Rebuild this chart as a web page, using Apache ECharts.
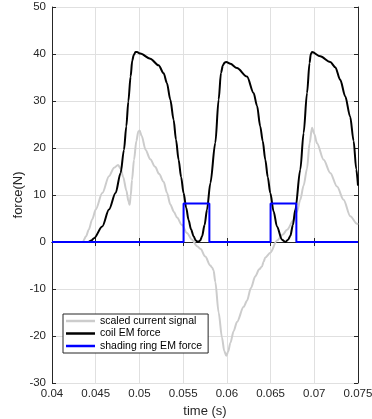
<!DOCTYPE html>
<html>
<head>
<meta charset="utf-8">
<script src="https://cdn.jsdelivr.net/npm/echarts@6/dist/echarts.min.js"></script>
<style>
  html, body { margin: 0; padding: 0; background: #fff; }
  #chart { width: 372px; height: 419px; }
</style>
</head>
<body>
<div id="chart"></div>
<script>
// [time (s), value] pairs
const currentSignal = [
  [0.04, 0], [0.0435, 0], [0.0439, 1.2], [0.0442, 2.6], [0.0446, 4.8], [0.045, 6.9],
  [0.04575, 10.4], [0.04652, 14], [0.0471, 15.8], [0.04755, 16.4], [0.04785, 15.6],
  [0.04815, 13.8], [0.0485, 11], [0.04875, 8.6], [0.04888, 7.9], [0.049, 9.8],
  [0.04915, 13.2], [0.04938, 17.5], [0.04965, 21.5], [0.04987, 23.5], [0.05002, 23.7],
  [0.05025, 22.6], [0.05071, 19.6], [0.05124, 17.6], [0.0518, 16], [0.05224, 14.5],
  [0.05277, 12.8], [0.05315, 10.5], [0.05353, 8], [0.05395, 6.4], [0.0543, 5.2],
  [0.05487, 3.6], [0.05544, 1.9], [0.05601, 0.5], [0.0566, -0.9], [0.057, -1.5],
  [0.05753, -3.1], [0.05811, -5.0], [0.0583, -5.4], [0.05848, -6.0], [0.05868, -8.5],
  [0.05906, -15], [0.05944, -20.3], [0.0597, -23.2], [0.05994, -24.2], [0.06015, -23.3],
  [0.0604, -21.5], [0.06077, -19.0], [0.06116, -17.0], [0.06192, -13.8], [0.0623, -12.5],
  [0.06275, -9.8], [0.06325, -7.3], [0.0637, -5.8], [0.06402, -5.2], [0.0642, -4.2],
  [0.0644, -3.3], [0.06497, -2.3], [0.06573, 0.3], [0.0664, 1.6], [0.06688, 2.6],
  [0.06764, 4.7], [0.06802, 6.4], [0.0684, 9], [0.06878, 12], [0.06917, 15.6],
  [0.06946, 21], [0.06974, 24.3], [0.07, 23], [0.07031, 21], [0.07107, 17.5],
  [0.07183, 14.7], [0.0726, 11.8], [0.07335, 9], [0.07412, 5.5], [0.07488, 3.9],
  [0.075, 3.7]
];

const coilForce = [
  [0.04, 0], [0.0441, 0], [0.0445, 0.3], [0.0448, 0.8], [0.04575, 3.3], [0.04652, 6.9],
  [0.04727, 10.4], [0.04785, 14.7], [0.04823, 19.6], [0.0485, 24.6], [0.04873, 29.9],
  [0.04899, 35.2], [0.04918, 38.6], [0.04935, 39.8], [0.04955, 40.4], [0.04972, 40.4],
  [0.0501, 40.1], [0.05124, 39.0], [0.05219, 37.6], [0.05277, 35.9], [0.05315, 33.8],
  [0.05353, 30.3], [0.05391, 26], [0.05418, 21.8], [0.05448, 17.5], [0.05477, 13.8],
  [0.05505, 10.4], [0.05535, 7.3], [0.05562, 4.7], [0.0559, 2.7], [0.0562, 1.2],
  [0.05645, 0.3], [0.0567, 0], [0.05695, 0.3], [0.05716, 1.2], [0.05745, 3.6],
  [0.05773, 6.9], [0.05811, 12.5], [0.05868, 21.1], [0.05906, 30.3], [0.05933, 36],
  [0.05955, 37.6], [0.05975, 38.2], [0.05994, 38.3], [0.0604, 37.9], [0.06116, 37.0],
  [0.0623, 35.2], [0.06306, 31.7], [0.06345, 29], [0.06382, 24.6], [0.0641, 21.5],
  [0.0644, 17.5], [0.06468, 13.8], [0.06497, 10.4], [0.06535, 6.5], [0.06573, 3.3],
  [0.0663, 0.5], [0.06668, 0], [0.067, 0.5], [0.06726, 1.3], [0.06755, 3.6],
  [0.06783, 6.9], [0.0684, 15.4], [0.06878, 23.2], [0.06917, 31.7], [0.06946, 38.1],
  [0.0696, 40.0], [0.06974, 40.4], [0.07069, 39.5], [0.07183, 38.3], [0.0724, 37.2],
  [0.07297, 34.5], [0.07354, 31], [0.0741, 26.7], [0.0745, 21.5], [0.0748, 15.5],
  [0.075, 12]
];

const ringForce = [
  [0.04, 0], [0.05505, 0], [0.05505, 8.2], [0.058, 8.2], [0.058, 0],
  [0.065, 0], [0.065, 8.2], [0.06795, 8.2], [0.06795, 0], [0.075, 0]
];

const seriesNames = ['scaled current signal', 'coil EM force', 'shading ring EM force'];
const seriesColors = ['#cccccc', '#000000', '#0000ff'];
const seriesSmooth = [0.3, 0.3, false];

const chart = echarts.init(document.getElementById('chart'));

const boxColor = '#262626';
const font = 'Liberation Sans, Arial, sans-serif';

function sideAxis(extra) {
  return Object.assign({
    axisLine: { show: true, lineStyle: { color: boxColor, width: 1 } },
    axisTick: { show: true, inside: true, length: 4, lineStyle: { color: boxColor } },
    axisLabel: { show: false },
    splitLine: { show: false }
  }, extra);
}

const option = {
  animation: false,
  backgroundColor: '#fff',
  grid: { left: 52, right: 14, top: 7, bottom: 36, containLabel: false, outerBoundsMode: 'none' },
  legend: {
    data: seriesNames,
    icon: 'rect',
    orient: 'vertical',
    left: 63,
    top: 314,
    backgroundColor: '#fff',
    borderColor: boxColor,
    borderWidth: 1,
    borderRadius: 0,
    padding: [1, 6, 1, 3],
    itemGap: 0.5,
    itemWidth: 29,
    itemHeight: 2.5,
    textStyle: { fontSize: 10.5, lineHeight: 12, color: '#000', fontFamily: font }
  },
  xAxis: [
    sideAxis({
      type: 'value',
      min: 0.04,
      max: 0.075,
      interval: 0.005,
      position: 'bottom',
      name: 'time (s)',
      nameLocation: 'middle',
      nameGap: 22,
      nameMoveOverlap: false,
      nameTextStyle: { fontSize: 13, color: boxColor, fontFamily: font },
      axisLabel: { show: true, color: boxColor, fontSize: 11.5, fontFamily: font, margin: 5 },
      splitLine: { show: true, lineStyle: { color: '#e0e0e0', width: 1 } }
    }),
    sideAxis({ type: 'value', min: 0.04, max: 0.075, interval: 0.005, position: 'top' })
  ],
  yAxis: [
    sideAxis({
      type: 'value',
      min: -30,
      max: 50,
      interval: 10,
      position: 'left',
      name: 'force(N)',
      nameLocation: 'middle',
      nameGap: 27,
      nameMoveOverlap: false,
      nameTextStyle: { fontSize: 13, color: boxColor, fontFamily: font },
      axisLabel: { show: true, color: boxColor, fontSize: 11.5, fontFamily: font, margin: 6 },
      splitLine: { show: true, lineStyle: { color: '#e0e0e0', width: 1 } }
    }),
    sideAxis({ type: 'value', min: -30, max: 50, interval: 10, position: 'right' })
  ],
  series: [currentSignal, coilForce, ringForce].map((d, i) => ({
    name: seriesNames[i],
    type: 'line',
    data: d,
    symbol: 'none',
    showSymbol: false,
    smooth: seriesSmooth[i],
    smoothMonotone: 'x',
    color: seriesColors[i],
    lineStyle: { color: seriesColors[i], width: 2 },
    z: 2 + i
  }))
};

chart.setOption(option);
</script>
</body>
</html>
